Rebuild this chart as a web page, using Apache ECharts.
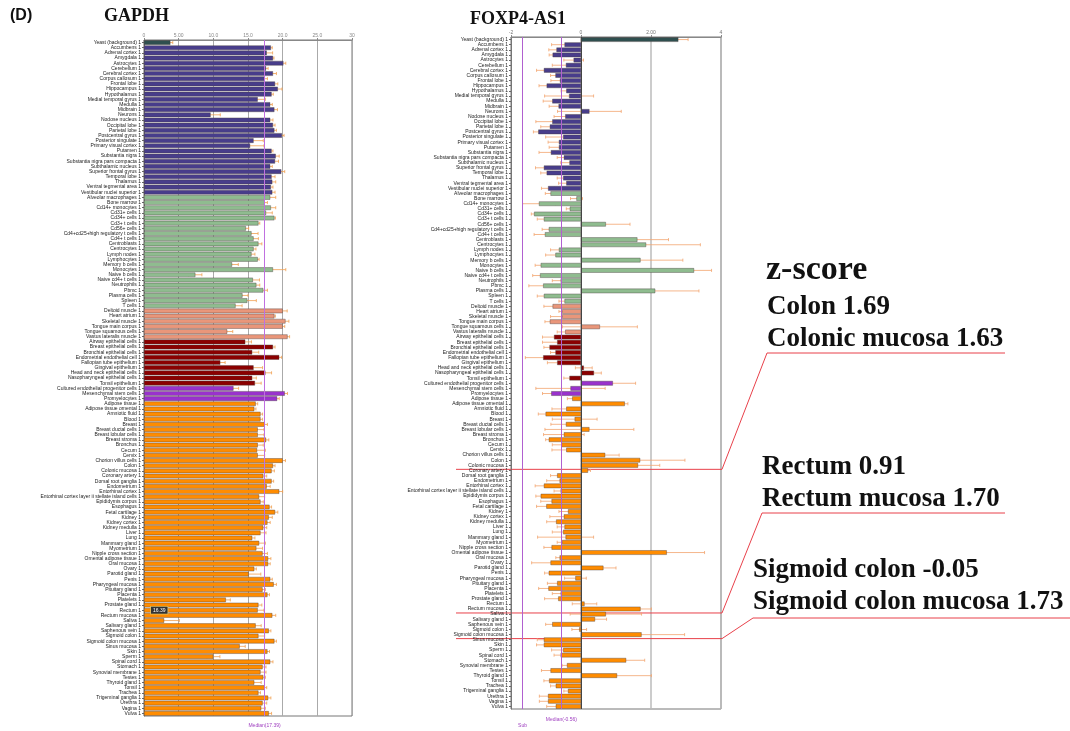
<!DOCTYPE html>
<html>
<head>
<meta charset="utf-8">
<script src="https://cdn.jsdelivr.net/npm/echarts@6/dist/echarts.min.js"></script>
<style>
  html, body { margin: 0; padding: 0; background: #fff; }
  #main { width: 1070px; height: 731px; }
</style>
</head>
<body>
<div id="main"></div>
<script>
var myChart = echarts.init(document.getElementById('main'));

// tissue groups (order as in the figure)
var brainTissues = ['Yeast (background)', 'Accumbens', 'Adrenal cortex', 'Amygdala', 'Astrocytes', 'Cerebellum',
  'Cerebral cortex', 'Corpus callosum', 'Frontal lobe', 'Hippocampus', 'Hypothalamus', 'Medial temporal gyrus',
  'Medulla', 'Midbrain', 'Neurons', 'Nodose nucleus', 'Occipital lobe', 'Parietal lobe', 'Postcentral gyrus',
  'Posterior singulate', 'Primary visual cortex', 'Putamen', 'Substantia nigra', 'Substantia nigra pars compacta',
  'Subthalamic nucleus', 'Superior frontal gyrus', 'Temporal lobe', 'Thalamus', 'Ventral tegmental area',
  'Vestibular nuclei superior'];
var immuneCells = ['Alveolar macrophages', 'Bone marrow', 'Cd14+ monocytes', 'Cd31+ cells', 'Cd34+ cells',
  'Cd3+ t cells', 'Cd56+ cells', 'Cd4+cd25+high regulatory t cells', 'Cd4+ t cells', 'Centroblasts', 'Centrocytes',
  'Lymph nodes', 'Lymphocytes', 'Memory b cells', 'Monocytes', 'Naive b cells', 'Naive cd4+ t cells',
  'Neutrophils', 'Pbmc', 'Plasma cells', 'Spleen', 'T cells'];
var muscleTissues = ['Deltoid muscle', 'Heart atrium', 'Skeletal muscle', 'Tongue main corpus',
  'Tongue squamous cells', 'Vastus lateralis muscle'];
var epithelialCells = ['Airway epithelial cells', 'Breast epithelial cells', 'Bronchial epithelial cells',
  'Endometrial endothelial cell', 'Fallopian tube epithelium', 'Gingival epithelium',
  'Head and neck epithelial cells', 'Nasopharyngeal epithelial cells', 'Tonsil epithelium'];
var progenitorCells = ['Cultured endothelial progenitor cells', 'Mesenchymal stem cells', 'Promyelocytes'];
var otherTissues = ['Adipose tissue', 'Adipose tissue omental', 'Amniotic fluid', 'Blood', 'Breast',
  'Breast ductal cells', 'Breast lobular cells', 'Breast stroma', 'Bronchus', 'Cecum', 'Cervix',
  'Chorion villus cells', 'Colon', 'Colonic mucosa', 'Coronary artery', 'Dorsal root ganglia', 'Endometrium',
  'Entorhinal cortex', 'Entorhinal cortex layer ii stellate island cells', 'Epididymis corpus', 'Esophagus',
  'Fetal cartilage', 'Kidney', 'Kidney cortex', 'Kidney medulla', 'Liver', 'Lung', 'Mammary gland', 'Myometrium',
  'Nipple cross section', 'Omental adipose tissue', 'Oral mucosa', 'Ovary', 'Parotid gland', 'Penis',
  'Pharyngeal mucosa', 'Pituitary gland', 'Placenta', 'Platelets', 'Prostate gland', 'Rectum', 'Rectum mucosa',
  'Saliva', 'Salivary gland', 'Saphenous vein', 'Sigmoid colon', 'Sigmoid colon mucosa', 'Sinus mucosa', 'Skin',
  'Sperm', 'Spinal cord', 'Stomach', 'Synovial membrane', 'Testes', 'Thyroid gland', 'Tonsil', 'Trachea',
  'Trigeminal ganglia', 'Urethra', 'Vagina', 'Vulva'];

var groups = [brainTissues, immuneCells, muscleTissues, epithelialCells, progenitorCells, otherTissues];
var groupColors = ['#483d8b', '#8fbc8f', '#e9967a', '#8b0000', '#9932cc', '#ff8c00'];
var yeastColor = '#2f4f4f';

// GAPDH expression
var gapdhMean = [
  3.8, 18.3, 17.7, 18.6, 20.1, 17.6, 18.6, 17.4, 18.9, 19.3, 18.4, 16.4, 18.2, 18.8, 9.6, 18.2, 18.6, 18.8, 19.9, 15.8,
  15.3, 18.4, 19.0, 18.9, 18.2, 19.8, 18.4, 18.5, 18.3, 18.5,
  18.2, 17.4, 18.3, 17.6, 18.8, 16.5, 14.7, 15.5, 15.8, 16.5, 15.8, 15.5, 16.4, 12.7, 18.6, 7.4, 15.7, 16.2, 17.2,
  14.2, 14.9, 13.2,
  20.0, 18.8, 20.4, 20.0, 12.0, 20.7,
  14.6, 18.6, 15.6, 19.5, 11.0, 15.8, 17.5, 15.6, 16.0,
  12.9, 20.3, 19.2,
  16.1, 15.9, 16.8, 16.8, 17.4, 16.4, 16.4, 17.6, 16.4, 16.3, 16.4, 20.0, 18.6, 18.4, 17.2, 18.4, 17.7, 19.5, 16.6,
  16.8, 18.1, 18.9, 18.0, 17.8, 17.2, 16.8, 15.6, 16.6, 16.2, 17.1, 17.9, 17.9, 15.9, 15.1, 18.2, 18.7, 17.1, 17.8,
  11.8, 16.5, 16.39, 18.5, 2.9, 16.1, 18.0, 16.5, 18.8, 13.8, 17.8, 10.0, 18.2, 17.1, 16.8, 17.2, 15.9, 17.4, 16.5,
  17.9, 17.1, 16.9, 18.0];
var gapdhErr = [
  0.35, 0.2, 0.85, 0.15, 0.35, 0.3, 0.5, 0.4, 0.4, 0.6, 0.25, 1.1, 0.3, 0.45, 1.4, 0.4, 0.3, 0.3, 0.3, 1.4,
  2.0, 0.2, 0.5, 0.5, 0.3, 0.5, 0.5, 0.5, 0.3, 0.4,
  0.8, 0.4, 0.7, 0.9, 0.15, 0.2, 0.4, 0.95, 0.7, 0.5, 0.35, 0.5, 0.2, 0.9, 1.85, 0.95, 0.95, 0.5, 0.6, 0.8, 1.3, 0.95,
  0.65, 0.15, 0.5, 0.3, 0.8, 0.3,
  0.9, 0.3, 0.95, 0.35, 0.7, 1.3, 0.9, 0.6, 0.9,
  0.75, 0.4, 0.3,
  0.3, 0.25, 0.3, 0.3, 0.4, 0.9, 0.9, 0.4, 0.8, 1.2, 1.0, 0.4, 0.3, 0.4, 0.5, 0.3, 0.5, 0.5, 0.8, 0.4, 0.3, 0.4,
  0.5, 0.4, 0.5, 0.8, 0.4, 0.9, 0.9, 0.7, 0.4, 0.3, 0.3, 1.75, 0.3, 0.4, 0.4, 0.3, 0.65, 0.5, 0.9, 0.5, 2.2, 0.8,
  0.3, 0.9, 0.3, 0.8, 0.3, 0.95, 0.4, 0.5, 0.8, 0.3, 1.0, 0.3, 0.3, 0.4, 0.6, 0.6, 0.4];
var gapdhMedian = 17.39;

// FOXP4-AS1 expression
var foxpMean = [
  2.78, -0.47, -0.70, -0.81, -0.21, -0.43, -1.06, -0.73, -0.60, -0.98, -0.42, -0.34, -0.82, -0.64, 0.24, -0.45,
  -0.82, -0.89, -1.22, -0.51, -0.63, -0.63, -0.86, -0.49, -0.33, -1.06, -0.98, -0.51, -0.42, -0.94,
  -0.87, -0.13, -1.20, -0.32, -1.34, -1.06, 0.71, -0.92, -1.03, 1.61, 1.86, -0.63, -0.73, 1.70, -1.15, 3.23, -1.17,
  -0.58, -1.08, 2.12, -1.06, -0.47,
  -0.81, -0.54, -0.54, -0.89, 0.54, -0.45,
  -0.77, -0.68, -0.90, -0.73, -1.08, -0.68, 0.08, 0.37, -0.33,
  0.91, -0.30, -0.85,
  -0.25, 1.25, -0.42, -1.01, -0.18, -0.43, 0.24, -0.49, -0.92, -0.56, -0.42, 0.69, 1.69, 1.63, 0.20, -0.68, -0.61,
  -1.06, -0.58, -1.15, -0.84, -0.99, -0.37, -0.49, -0.71, -0.47, -0.51, -0.44, -0.54, -0.84, 2.45, -0.61, -0.87,
  0.64, -0.92, -0.16, -0.68, -0.93, -0.58, -0.65, 0.10, 1.70, 0.71, 0.40, -0.82, -0.05, 1.73, -1.06, -1.06, -0.51,
  -0.58, 1.29, -0.40, -0.87, 1.03, -0.91, -0.72, -0.37, -0.94, -0.94, -0.72];
var foxpErr = [
  0.28, 0.37, 0.22, 0.10, 0.28, 0.39, 0.21, 0.14, 0.26, 0.22, 0.15, 0.70, 0.26, 0.27, 0.91, 0.32, 0.47, 0.26, 0.14,
  0.50, 0.31, 0.28, 0.34, 0.19, 0.25, 0.24, 0.17, 0.17, 0.22, 0.19,
  0.15, 0.17, 0.47, 0.10, 0.08, 0.19, 0.69, 0.19, 0.31, 0.89, 1.55, 0.24, 0.28, 1.21, 0.16, 0.50, 0.21, 0.24, 0.41,
  1.25, 0.19, 0.16,
  0.25, 0.09, 0.33, 0.14, 1.07, 0.23,
  0.33, 0.42, 0.16, 0.14, 0.51, 0.28, 0.24, 0.21, 0.16,
  0.65, 0.99, 0.25,
  0.14, 0.09, 0.41, 0.21, 0.64, 0.43, 1.27, 0.58, 0.09, 0.26, 0.41, 0.40, 1.28, 0.62, 0.07, 0.19, 0.37, 0.25, 0.19,
  0.14, 0.31, 0.28, 0.26, 0.40, 0.27, 0.21, 0.31, 0.80, 0.14, 0.22, 1.08, 0.11, 0.54, 0.36, 0.12, 0.31, 0.28, 0.28,
  0.24, 0.39, 0.35, 0.31, 1.02, 0.33, 0.19, 0.21, 1.23, 0.19, 0.21, 0.33, 0.19, 0.53, 0.14, 0.26, 0.98, 0.15, 0.15,
  0.12, 0.25, 0.25, 0.26];
var foxpMedian = -0.56;
var foxpCutoff = -1.67;

// z-score notes
var zNotes = [
  ['Colon 1.69', 'Colonic mucosa 1.63'],
  ['Rectum 0.91', 'Rectum mucosa 1.70'],
  ['Sigmoid colon -0.05', 'Sigmoid colon mucosa 1.73']
];

var tissues = [].concat.apply([], groups);
var rowColor = [];
groups.forEach(function(g, gi) {
  g.forEach(function() { rowColor.push(groupColors[gi]); });
});
rowColor[0] = yeastColor;

function barData(means, extra) {
  return means.map(function(v, i) {
    var item = { value: v, itemStyle: { color: rowColor[i] } };
    if (extra && extra[i]) item.label = extra[i];
    return item;
  });
}

function errSeries(idx, means, errs, color) {
  return {
    type: 'custom',
    xAxisIndex: idx,
    yAxisIndex: idx,
    z: 1,
    silent: true,
    data: means.map(function(m, i) { return [m - errs[i], m + errs[i], i]; }),
    encode: { x: [0, 1], y: 2 },
    renderItem: function(params, api) {
      var lo = api.coord([api.value(0), api.value(2)]);
      var hi = api.coord([api.value(1), api.value(2)]);
      var h = api.size([0, 1])[1] * 0.3;
      var st = { stroke: color, lineWidth: 0.8 };
      return {
        type: 'group',
        children: [
          { type: 'line', shape: { x1: lo[0], y1: lo[1], x2: hi[0], y2: hi[1] }, style: st },
          { type: 'line', shape: { x1: lo[0], y1: lo[1] - h, x2: lo[0], y2: lo[1] + h }, style: st },
          { type: 'line', shape: { x1: hi[0], y1: hi[1] - h, x2: hi[0], y2: hi[1] + h }, style: st }
        ]
      };
    }
  };
}

var catAxis = function(idx) {
  return {
    type: 'category',
    gridIndex: idx,
    data: tissues,
    inverse: true,
    axisLine: { onZero: false, lineStyle: { color: '#666', width: 0.8 } },
    axisTick: { show: true, length: 2, alignWithLabel: true, lineStyle: { color: '#666' } },
    axisLabel: {
      interval: 0, fontSize: 5, color: '#222', margin: 3, fontFamily: 'Liberation Sans',
      formatter: function(v) { return v + ' 1'; }
    }
  };
};

var gapdhTicks = { 0: '0', 5: '5.00', 10: '10.0', 15: '15.0', 20: '20.0', 25: '25.0', 30: '30' };
var foxpTicks = { '-2': '-2', 0: '0', 2: '2.00', 4: '4' };

var rectumLabel = {};
rectumLabel[tissues.indexOf('Rectum')] = {
  show: true, position: 'insideLeft', offset: [2, 0], formatter: '16.39', fontSize: 5,
  color: '#fff', backgroundColor: '#333', borderColor: '#e0c060', borderWidth: 0.8, padding: [1, 2]
};

var option = {
  animation: false,
  grid: [
    { left: 144, top: 40, width: 208, height: 676, show: true, borderColor: '#777', borderWidth: 1, containLabel: false },
    { left: 511, top: 37, width: 210, height: 672, show: true, borderColor: '#777', borderWidth: 1, containLabel: false }
  ],
  xAxis: [
    {
      type: 'value', gridIndex: 0, position: 'top', min: 0, max: 30, interval: 5,
      axisLine: { show: true, lineStyle: { color: '#888' } },
      axisTick: { show: true, length: 2 },
      splitLine: { lineStyle: { color: '#aaa', width: 1 } },
      axisLabel: { fontSize: 5, color: '#888', margin: 2, formatter: function(v) { return gapdhTicks[v]; } }
    },
    {
      type: 'value', gridIndex: 1, position: 'top', min: -2, max: 4, interval: 2,
      axisLine: { show: true, lineStyle: { color: '#888' } },
      axisTick: { show: true, length: 2 },
      splitLine: { lineStyle: { color: '#bbb', width: 1.5 } },
      axisLabel: { fontSize: 5, color: '#777', margin: 2, formatter: function(v) { return foxpTicks[v]; } }
    }
  ],
  yAxis: [catAxis(0), catAxis(1)],
  series: [
    errSeries(0, gapdhMean, gapdhErr, '#f0a050'),
    {
      type: 'bar', xAxisIndex: 0, yAxisIndex: 0, z: 2,
      barCategoryGap: '12%',
      data: barData(gapdhMean, rectumLabel),
      itemStyle: { borderColor: '#4a4040', borderWidth: 0.4 },
      markLine: {
        silent: true, symbol: 'none',
        lineStyle: { color: '#c070e0', type: 'solid', width: 1 },
        label: { position: 'end', formatter: 'Median(17.39)', fontSize: 5, color: '#a040c0', distance: 7 },
        data: [{ xAxis: gapdhMedian }]
      }
    },
    errSeries(1, foxpMean, foxpErr, '#f2a46e'),
    {
      type: 'bar', xAxisIndex: 1, yAxisIndex: 1, z: 2,
      barCategoryGap: '12%',
      data: barData(foxpMean),
      itemStyle: { borderColor: '#4a4040', borderWidth: 0.4 },
      markLine: {
        silent: true, symbol: 'none',
        lineStyle: { color: '#b060d0', type: 'solid', width: 1 },
        label: { position: 'end', fontSize: 5, color: '#a040c0', distance: 8 },
        data: [
          { xAxis: foxpCutoff, label: { formatter: 'Sub', distance: 14 } },
          { xAxis: foxpMedian, label: { formatter: 'Median(-0.56)' } },
          { xAxis: 0, lineStyle: { color: '#444', width: 1 }, label: { show: false } }
        ]
      }
    }
  ]
};

myChart.setOption(option);

// annotations: titles, z-score notes and the red pointer lines
var rowY = function(name) { return myChart.convertToPixel({ yAxisIndex: 1 }, name); };
var serif = 'Liberation Serif';
var red = '#e8404a';
var noteMid = [307, 467, 570];
var noteLeft = [767, 762, 753];
var noteRight = [1005, 1005, 1070];
var underY = [353, 513, 618];
var pointTo = [rowY('Colonic mucosa') + 4, rowY('Rectum mucosa') + 4, rowY('Sigmoid colon mucosa') + 4];

var graphics = [
  { type: 'text', left: 10, top: 8, style: { text: '(D)', font: 'bold 16px "Liberation Sans"', fill: '#111' } },
  { type: 'text', left: 104, top: 7, style: { text: 'GAPDH', font: 'bold 18px "' + serif + '"', fill: '#111' } },
  { type: 'text', left: 470, top: 10, style: { text: 'FOXP4-AS1', font: 'bold 18px "' + serif + '"', fill: '#111' } },
  { type: 'text', x: 766, y: 270, style: { text: 'z-score', font: 'bold 34px "' + serif + '"', fill: '#111', textVerticalAlign: 'middle' } }
];
zNotes.forEach(function(n, k) {
  graphics.push({ type: 'text', x: noteLeft[k], y: noteMid[k], style: { text: n[0], font: 'bold 27px "' + serif + '"', fill: '#111', textVerticalAlign: 'middle' } });
  graphics.push({ type: 'text', x: noteLeft[k], y: noteMid[k] + 32, style: { text: n[1], font: 'bold 27px "' + serif + '"', fill: '#111', textVerticalAlign: 'middle' } });
  graphics.push({
    type: 'polyline', silent: true,
    shape: { points: [[noteRight[k], underY[k]], [noteLeft[k], underY[k]], [722, pointTo[k]], [456, pointTo[k]]] },
    style: { stroke: red, lineWidth: 1, fill: null }
  });
});
myChart.setOption({ graphic: graphics });
</script>
</body>
</html>
